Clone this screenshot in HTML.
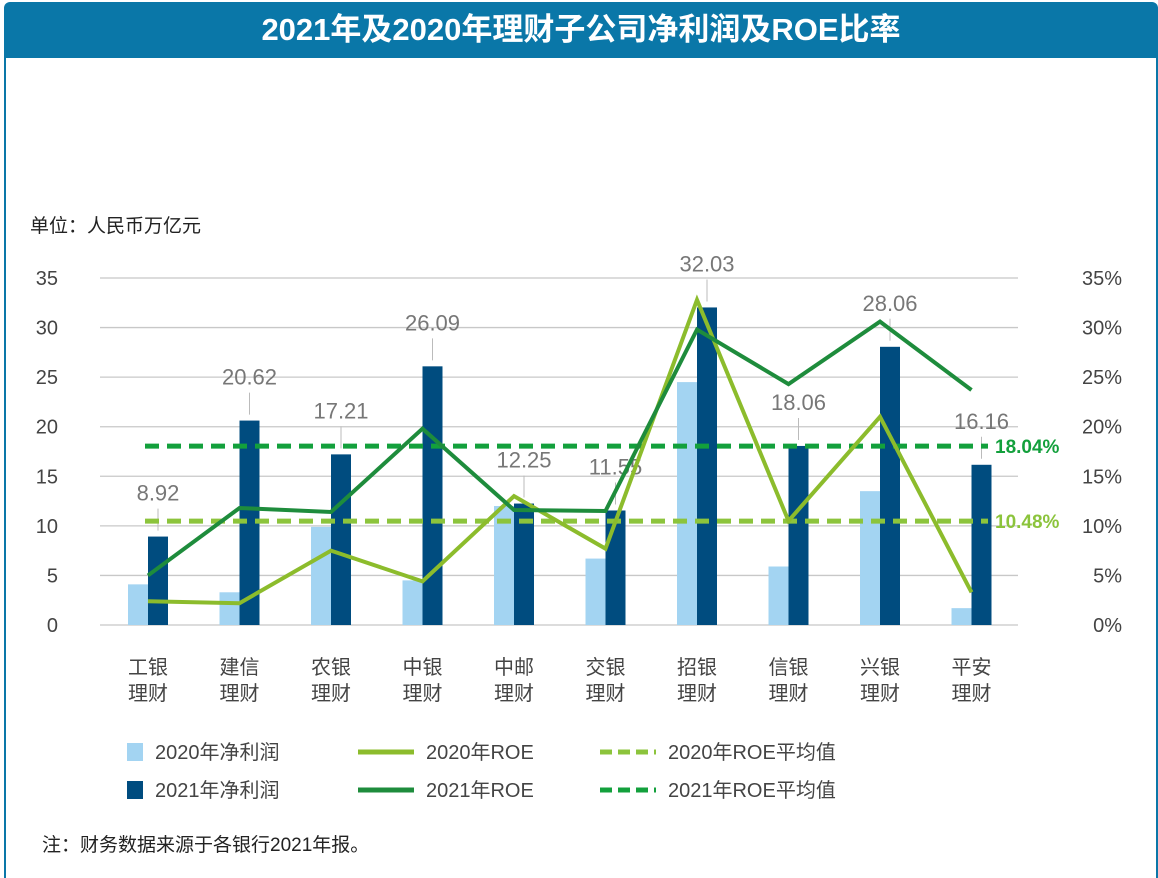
<!DOCTYPE html>
<html><head><meta charset="utf-8"><style>
body{margin:0;width:1158px;height:867px;background:#fff;overflow:hidden;font-family:"Liberation Sans","Noto Sans CJK SC",sans-serif}
#hdr{position:absolute;left:4px;top:2px;width:1154px;height:56px;background:#0a77a8;color:#fff;font-weight:bold;font-size:31px;text-align:center;line-height:56px;border-radius:6px 6px 0 0}
#frame{position:absolute;left:4px;top:58px;width:1150px;height:820px;border-left:2px solid #0a77a8;border-right:2px solid #0a77a8}
</style></head><body>
<div id="hdr">2021年及2020年理财子公司净利润及ROE比率</div>
<div id="frame"></div>
<svg id="c" width="1158" height="867" style="position:absolute;left:0;top:0" font-family="Liberation Sans, Noto Sans CJK SC, sans-serif"></svg>
<script>
const categories=[["工银","理财"],["建信","理财"],["农银","理财"],["中银","理财"],["中邮","理财"],["交银","理财"],["招银","理财"],["信银","理财"],["兴银","理财"],["平安","理财"]];
const profit2020=[4.1,3.3,9.9,4.5,12.0,6.7,24.5,5.9,13.5,1.7];
const profit2021=[8.92,20.62,17.21,26.09,12.25,11.55,32.03,18.06,28.06,16.16];
const roe2020=[2.4,2.2,7.5,4.4,13.0,7.7,32.8,10.5,21.0,3.3];
const roe2021=[5.0,11.8,11.4,19.8,11.6,11.5,29.8,24.3,30.6,23.7];
const avg2020=10.48, avg2021=18.04;
const leftTicks=[0,5,10,15,20,25,30,35];
const rightTicks=["0%","5%","10%","15%","20%","25%","30%","35%"];
const svg=document.getElementById('c');const NS='http://www.w3.org/2000/svg';
function mk(t,a,p){const e=document.createElementNS(NS,t);for(const k in a)e.setAttribute(k,a[k]);(p||svg).appendChild(e);return e;}
const x0=100,x1=1018,yB=625,yT=278;
const y=v=>yB-(v/35)*(yB-yT);
const yr=v=>yB-(v/35)*(yB-yT);
const cx=i=>148+91.5*i;
let t=mk('text',{x:30,y:232,'font-size':19,fill:'#222'});t.textContent='单位：人民币万亿元';


leftTicks.forEach((v,i)=>{
 const g=mk('line',{x1:x0,x2:x1,y1:y(v),y2:y(v),stroke:'#c8c8c8','stroke-width':1.3});
 
 
 const a=mk('text',{x:58,y:y(v)+7,'font-size':20,fill:'#444','text-anchor':'end'});a.textContent=v;
 
 
 const b=mk('text',{x:1122,y:y(v)+7,'font-size':20,fill:'#444','text-anchor':'end'});b.textContent=rightTicks[i];
 
 
});
categories.forEach((c,i)=>{
 const r1=mk('rect',{x:cx(i)-20,y:y(profit2020[i]),width:20,height:yB-y(profit2020[i]),fill:'#a3d4f2'});
 
 
 const r2=mk('rect',{x:cx(i),y:y(profit2021[i]),width:20,height:yB-y(profit2021[i]),fill:'#004c7f'});
 
 
 const ld=mk('line',{x1:cx(i)+10,x2:cx(i)+10,y1:y(profit2021[i])-6,y2:y(profit2021[i])-28,stroke:'#bbb','stroke-width':1});
 
 
 const lb=mk('text',{x:cx(i)+10,y:y(profit2021[i])-36,'font-size':22,fill:'#777','text-anchor':'middle'});lb.textContent=profit2021[i].toFixed(2);
 
 
 c.forEach((s,j)=>{const ct=mk('text',{x:cx(i),y:674+j*26,'font-size':20,fill:'#444','text-anchor':'middle'});ct.textContent=s;
 
 });
});
[[avg2021,'#13a03c'],[avg2020,'#8cc43c']].forEach(([v,col])=>{
 const l=mk('line',{x1:145,x2:988,y1:yr(v),y2:yr(v),stroke:col,'stroke-width':5,'stroke-dasharray':'14,8'});
 
 
 const tx=mk('text',{x:995,y:yr(v)+7,'font-size':19,'font-weight':'bold',fill:col});tx.textContent=v.toFixed(2)+'%';
 
 
});
[[roe2020,'#8cbc2c'],[roe2021,'#1e8c3c']].forEach(([d,col])=>{
 const p=mk('polyline',{points:d.map((v,i)=>cx(i)+','+yr(v)).join(' '),fill:'none',stroke:col,'stroke-width':4,'stroke-linejoin':'miter'});
 
 
});
const leg=[[127,752,'rect','#a3d4f2','2020年净利润'],[127,790,'rect','#004c7f','2021年净利润'],[358,752,'line','#8cbc2c','2020年ROE'],[358,790,'line','#1e8c3c','2021年ROE'],[600,752,'dash','#8cc43c','2020年ROE平均值'],[600,790,'dash','#13a03c','2021年ROE平均值']];
leg.forEach(([lx,ly,k,col,txt])=>{
 let m;
 if(k==='rect')m=mk('rect',{x:lx,y:ly-9,width:16,height:18,fill:col});
 else m=mk('line',{x1:lx,x2:lx+56,y1:ly,y2:ly,stroke:col,'stroke-width':5,'stroke-dasharray':k==='dash'?'12,6':'none'});
 
 
 const tt=mk('text',{x:k==='rect'?lx+28:lx+68,y:ly+7,'font-size':20,fill:'#444'});tt.textContent=txt;
 
 
});
const n=mk('text',{x:42,y:851,'font-size':19,fill:'#222'});n.textContent='注：财务数据来源于各银行2021年报。';


</script>
</body></html>
